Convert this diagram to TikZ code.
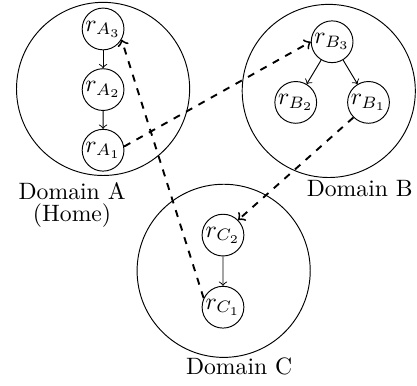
\documentclass[tikz,border=0pt]{standalone}
\usepackage{amsmath, amssymb}
\usepackage{tikz}
\usetikzlibrary{arrows, positioning}
\tikzset{
  dom/.style = {circle, draw=black, minimum size=2.57cm, inner sep=0pt},
  ch/.style = {circle, draw=black, minimum size=0.62cm, inner sep=0pt},
  dlabel/.style = {align=center, inner sep=0pt, anchor=north},
  link/.style = {thick, dashed}
}
\begin{document}
\begin{tikzpicture}[->, level distance=0.9cm, sibling distance=1.08cm]
\useasboundingbox (-1.53,1.32) rectangle (4.66,-4.40);
% domains
\node [dom] (domA) at (0,0) {};
\node [dom] (domB) at (3.35,-0.03) {};
\node [dom] (domC) at (1.79,-2.70) {};
\node [dlabel] (labA) at (-0.46,-1.39) {Domain A\\[-3pt](Home)};
\node [dlabel] (labB) at (3.81,-1.35) {Domain B};
\node [dlabel] (labC) at (2.02,-3.99) {Domain C};
% resources
\node [ch] (rA3) at (0,0.89) {$r_{A_3}$}
child{ node [ch] (rA2) {$r_{A_2}$}
    child{ node [ch] (rA1) {$r_{A_1}$}}};
\node [ch] (rB3) at (3.40,0.70) {$r_{B_3}$}
child{ node [ch] (rB2) {$r_{B_2}$}}
child{ node [ch] (rB1) {$r_{B_1}$}};
\node [ch] (rC2) at (1.78,-2.17) {$r_{C_2}$}
child [level distance=1.07cm]{ node [ch] (rC1) {$r_{C_1}$}};
% delegations
\draw [link] (rA1.10) -- (rB3.west);
\draw [link] (rB1.south west) -- (rC2.north east);
\draw [link] (rC1.155) -- (rA3.-30);
\end{tikzpicture}
\end{document}
